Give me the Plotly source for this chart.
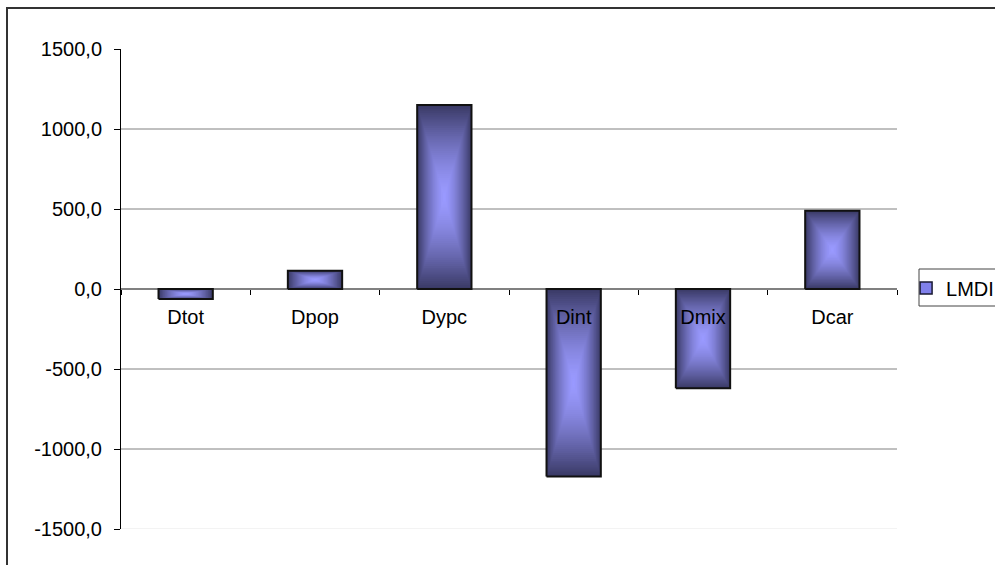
import plotly.graph_objects as go

# Decomposition terms and their values
categories = ["Dtot", "Dpop", "Dypc", "Dint", "Dmix", "Dcar"]
lmdi_values = [-62, 114, 1150, -1172, -621, 489]

# Value axis
y_ticks = [-1500, -1000, -500, 0, 500, 1000, 1500]
y_tick_labels = ["-1500,0", "-1000,0", "-500,0", "0,0", "500,0", "1000,0", "1500,0"]
grid_values = [-1000, -500, 500, 1000]

FONT = "Liberation Sans, Arial, sans-serif"
BAR_HALF = 0.21
STEPS = 48
LIGHT = (154, 154, 255)
DARK = (58, 58, 102)


def shade(t):
    f = t ** 1.5
    r, g, b = (round(LIGHT[k] + (DARK[k] - LIGHT[k]) * f) for k in range(3))
    return f"rgb({r},{g},{b})"


def rect_path(cx, cy, hw, hh):
    xs = [cx - hw, cx + hw, cx + hw, cx - hw, cx - hw]
    ys = [cy - hh, cy - hh, cy + hh, cy + hh, cy - hh]
    return xs, ys


fig = go.Figure()

# Bars filled with a centre-out gradient: nested rectangles, dark outside, light inside
for k in range(STEPS, 0, -1):
    t = k / STEPS
    xs_all, ys_all = [], []
    for i, v in enumerate(lmdi_values):
        xs, ys = rect_path(i, v / 2, BAR_HALF * t, abs(v) / 2 * t)
        xs_all += xs + [None]
        ys_all += ys + [None]
    fig.add_trace(go.Scatter(
        x=xs_all, y=ys_all, mode="lines", fill="toself",
        fillcolor=shade(t), line=dict(width=0), hoverinfo="skip",
        showlegend=False,
    ))

# Bar outlines
xs_all, ys_all = [], []
for i, v in enumerate(lmdi_values):
    xs, ys = rect_path(i, v / 2, BAR_HALF, abs(v) / 2)
    xs_all += xs + [None]
    ys_all += ys + [None]
fig.add_trace(go.Scatter(
    x=xs_all, y=ys_all, mode="lines", line=dict(color="#111111", width=2),
    hoverinfo="skip", showlegend=False,
))

# Legend entry
fig.add_trace(go.Bar(
    x=[None], y=[None], name="LMDI",
    marker=dict(color="rgb(128,128,235)", line=dict(color="#1a1a33", width=1.5)),
))

shapes = []
for g in grid_values:
    shapes.append(dict(type="line", xref="paper", yref="y", x0=0, x1=1, y0=g, y1=g,
                       line=dict(color="#808080", width=1), layer="below"))
shapes.append(dict(type="line", xref="paper", yref="y", x0=0, x1=1,
                   y0=y_ticks[0], y1=y_ticks[0],
                   line=dict(color="#e6e6e6", width=1), layer="below"))
# Chart frame
shapes.append(dict(type="rect", xref="paper", yref="paper",
                   xsizemode="pixel", ysizemode="pixel", xanchor=0, yanchor=0,
                   x0=-114, x1=900, y0=-60, y1=521,
                   line=dict(color="#333333", width=2), layer="below"))
# Legend frame
shapes.append(dict(type="rect", xref="paper", yref="paper",
                   xsizemode="pixel", ysizemode="pixel", xanchor=1, yanchor=0.5,
                   x0=22, x1=130, y0=-17, y1=20,
                   line=dict(color="#444444", width=1), fillcolor="white",
                   layer="below"))

fig.update_layout(
    width=995, height=565,
    margin=dict(l=121, r=98, t=49, b=36, autoexpand=False),
    paper_bgcolor="white", plot_bgcolor="white",
    font=dict(family=FONT, size=20, color="black"),
    shapes=shapes,
    showlegend=True,
    legend=dict(x=1.0117, xanchor="left", y=0.502, yanchor="middle",
                borderwidth=0, bgcolor="rgba(0,0,0,0)",
                font=dict(family=FONT, size=20, color="black"),
                itemwidth=30),
    xaxis=dict(
        range=[-0.5, 5.5], tickmode="array",
        tickvals=list(range(len(categories))), ticktext=categories,
        anchor="free", position=0.5, showline=False, showgrid=False,
        zeroline=False, ticks="", ticklabelstandoff=14,
        tickfont=dict(family=FONT, size=20, color="black"),
        minor=dict(tickmode="array",
                   tickvals=[i + 0.5 for i in range(-1, len(categories))],
                   ticks="outside", ticklen=5, tickwidth=1, tickcolor="black",
                   showgrid=False),
        fixedrange=True,
    ),
    yaxis=dict(
        range=[y_ticks[0], y_ticks[-1]], tickmode="array",
        tickvals=y_ticks, ticktext=y_tick_labels,
        showline=True, linecolor="black", linewidth=1,
        ticks="outside", ticklen=6, tickcolor="black", tickwidth=1,
        showgrid=False, zeroline=True, zerolinecolor="#808080", zerolinewidth=2,
        ticklabelstandoff=8,
        tickfont=dict(family=FONT, size=20, color="black"),
        fixedrange=True,
    ),
)

fig.write_html("out.html")
